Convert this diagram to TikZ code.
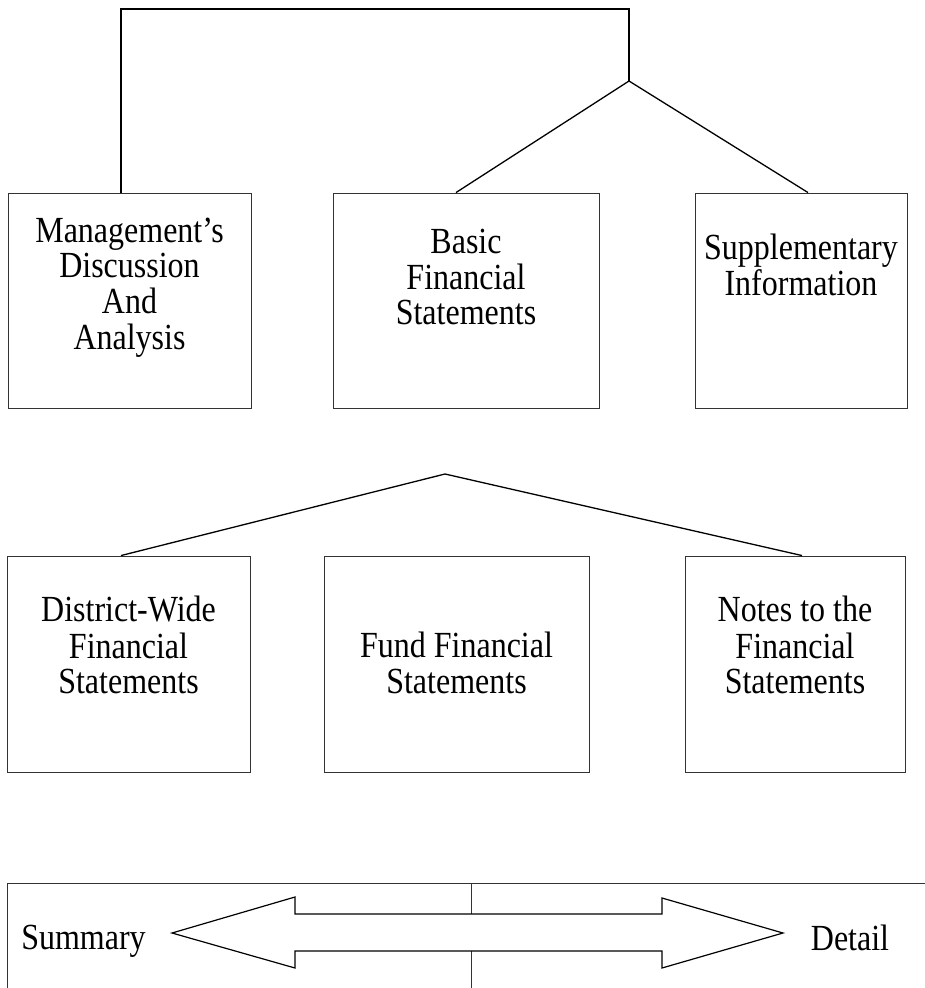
\documentclass[tikz,border=0pt]{standalone}
\usepackage{fontspec}
\usepackage{graphicx}
\setmainfont{Liberation Serif}
\newcommand{\tallt}[1]{\scalebox{1}[1.15]{\fontsize{32}{30.5}\selectfont\begin{tabular}{@{}c@{}}#1\end{tabular}}}
\begin{document}
\begin{tikzpicture}[x=1pt,y=-1pt,
  box/.style={draw=black!80,line width=0.9pt,inner sep=0pt,rectangle},
  txt/.style={align=center,inner sep=0pt},
  conn/.style={draw=black,line width=1.3pt},
  thinline/.style={draw=black!80,line width=0.9pt}]
\useasboundingbox (0,0) rectangle (925,988);
% row 1 boxes
\node[box,minimum width=243pt,minimum height=215pt] (mda) at (129.5,300.5) {};
\node[box,minimum width=266pt,minimum height=215pt] (bfs) at (466,300.5) {};
\node[box,minimum width=212pt,minimum height=215pt] (sup) at (801,300.5) {};
\node[txt] (mdat) at (129.5,289) {\tallt{Management's\\Discussion\\And\\Analysis}};
\node[txt] (bfst) at (466,282) {\tallt{Basic\\Financial\\Statements}};
\node[txt] (supt) at (801,270) {\tallt{Supplementary\\Information}};
% row 2 boxes
\node[box,minimum width=243pt,minimum height=216pt] (dwf) at (128.5,664) {};
\node[box,minimum width=265pt,minimum height=216pt] (ffs) at (456.5,664) {};
\node[box,minimum width=220pt,minimum height=216pt] (nfs) at (795,664) {};
\node[txt] (dwft) at (128.5,650) {\tallt{District-Wide\\Financial\\Statements}};
\node[txt] (ffst) at (456.5,668) {\tallt{Fund Financial\\Statements}};
\node[txt] (nfst) at (795,650) {\tallt{Notes to the\\Financial\\Statements}};
% connector coordinates
\coordinate (topL) at (121,9);
\coordinate (topR) at (629,9);
\coordinate (j1) at (629,81);
\coordinate (xa) at (456,0);
\coordinate (xb) at (808,0);
\coordinate (apex) at (445,474);
\coordinate (xc) at (121,0);
\coordinate (xd) at (802,0);
% top connectors
\draw[conn,line join=miter] (mda.north -| topL) -- (topL) -- (topR) -- (j1);
\draw[conn] (j1) -- (bfs.north -| xa);
\draw[conn] (j1) -- (sup.north -| xb);
% second tree
\draw[conn] (apex) -- (dwf.north -| xc);
\draw[conn] (apex) -- (nfs.north -| xd);
% bottom scale frame
\coordinate (fTL) at (7,883);
\coordinate (fTR) at (925,883);
\coordinate (fBL) at (7,988);
\draw[thinline] (fBL) -- (fTL) -- (fTR);
\coordinate (mTop) at (471,883);
\coordinate (mA) at (471,914);
\coordinate (mB) at (471,951);
\coordinate (mBot) at (471,988);
\draw[thinline] (mTop) -- (mA);
\draw[thinline] (mB) -- (mBot);
% double arrow
\draw[conn,line width=1.2pt,line join=miter] (172,933) -- (295,897) -- (295,914) -- (662,914) -- (662,898)
  -- (783,933) -- (662,968) -- (662,951) -- (295,951) -- (295,968) -- cycle;
\node[txt,anchor=base] (summ) at (83.5,950) {\tallt{Summary}};
\node[txt,anchor=base] (det) at (850,950) {\tallt{Detail}};
\end{tikzpicture}
\end{document}
